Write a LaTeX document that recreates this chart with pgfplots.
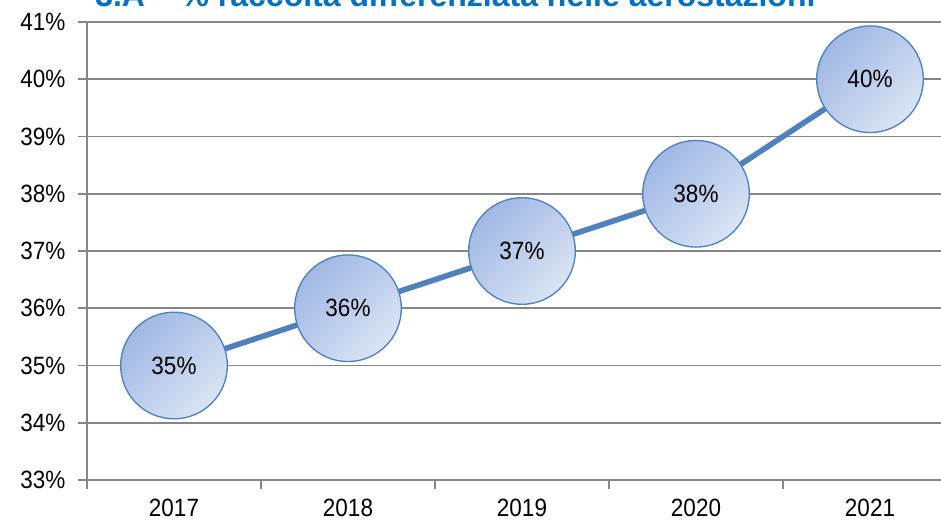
\documentclass[border=0pt]{standalone}
\usepackage{fontspec}
\setmainfont{Liberation Sans}[FakeStretch=0.9]
\newfontfamily\titlefont{Liberation Sans}
\usepackage{pgfplots}
\pgfplotsset{compat=1.18}
\usetikzlibrary{shadings}
\definecolor{titleblue}{RGB}{0,112,192}
\definecolor{lineblue}{RGB}{79,129,189}
\definecolor{fillA}{RGB}{160,184,228}
\definecolor{fillB}{RGB}{218,228,244}
\definecolor{gridgray}{RGB}{134,134,134}
\pgfplotstableread{
x y
0 35
1 36
2 37
3 38
4 40
}\datatable
\begin{document}
\begin{tikzpicture}
\useasboundingbox (-65.25pt,-33pt) rectangle (640.5pt,360pt);
\begin{scope}
\clip (-65.25pt,-33pt) rectangle (640.5pt,360pt);
\begin{axis}[
  overlay,
  scale only axis,
  width=652.5pt, height=343.5pt,
  xmin=-0.5, xmax=4.5,
  ymin=33, ymax=41,
  ytick={33,34,...,41},
  xtick={0,1,2,3,4},
  xticklabels={2017,2018,2019,2020,2021},
  minor xtick={-0.5,0.5,1.5,2.5,3.5,4.5},
  axis x line*=bottom,
  axis y line*=left,
  axis line style={gridgray, line width=1.2pt},
  tick align=outside,
  major tick length=6.75pt,
  minor tick length=6.75pt,
  major x tick style={draw=none},
  minor x tick style={gridgray, line width=1.2pt},
  major y tick style={gridgray, line width=1.2pt},
  ymajorgrids,
  major grid style={gridgray, line width=1.2pt},
  tick label style={font=\fontsize{18.75}{22}\selectfont},
  xticklabel style={yshift=-6.2pt, inner sep=1pt},
  yticklabel style={xshift=-6pt},
  /pgf/number format/assume math mode=true,
  yticklabel={\pgfmathprintnumber{\tick}\%},
  clip=false,
]
\addplot[lineblue, line width=4.2pt,
  nodes near coords={\pgfmathprintnumber{\pgfplotspointmeta}\%},
  every node near coord/.append style={
    circle, draw=lineblue, line width=1pt, minimum size=80pt, anchor=center,
    top color=fillA, bottom color=fillB, shading angle=45,
    font=\fontsize{18.75}{22}\selectfont, text=black},
] table[x=x,y=y] {\datatable};
\end{axis}
\node[overlay, anchor=base west, text=titleblue, font=\titlefont\bfseries\fontsize{24}{28}\selectfont, inner sep=0pt] at (6pt,354.75pt) {3.A – \% raccolta differenziata nelle aerostazioni};
\end{scope}
\end{tikzpicture}
\end{document}
